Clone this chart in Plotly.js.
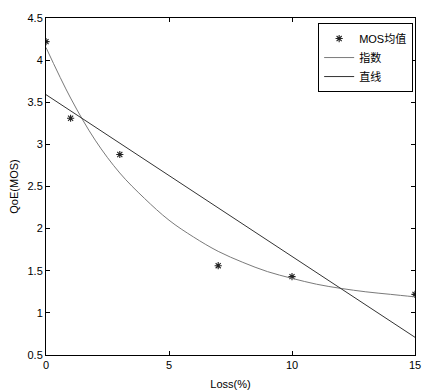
<!DOCTYPE html>
<html>
<head>
<meta charset="utf-8">
<script src="https://cdn.plot.ly/plotly-3.0.1.min.js"></script>
<style>html,body{margin:0;padding:0;background:#fff;}#chart{width:422px;height:390px;}</style>
</head>
<body>
<div id="chart"></div>
<script>
// Measured MOS means
var lossX = [0, 1, 3, 7, 10, 15];
var mosY = [4.22, 3.31, 2.88, 1.56, 1.43, 1.22];
// Exponential fit curve
var expX = [0, 1, 2, 3, 4, 5, 6, 7, 8, 9, 10, 11, 12, 13, 14, 15];
var expY = [4.15, 3.55, 3.05, 2.66, 2.36, 2.10, 1.90, 1.73, 1.60, 1.49, 1.41, 1.34, 1.29, 1.25, 1.22, 1.19];
// Straight-line fit
var linX = [0, 15];
var linY = [3.59, 0.71];
var names = ['MOS均值', '指数', '直线'];
var xTicks = [0, 5, 10, 15];
var yTicks = [0.5, 1, 1.5, 2, 2.5, 3, 3.5, 4, 4.5];

var font = 'Liberation Sans, Arial, Noto Sans CJK SC, sans-serif';
var traces = [
  {x: lossX, y: mosY, name: names[0], mode: 'markers', type: 'scatter',
   marker: {symbol: 'asterisk-open', size: 6, color: '#222', line: {color: '#222', width: 1.1}}},
  {x: expX, y: expY, name: names[1], mode: 'lines', type: 'scatter',
   line: {color: '#7a7a7a', width: 1, shape: 'spline'}},
  {x: linX, y: linY, name: names[2], mode: 'lines', type: 'scatter',
   line: {color: '#333', width: 1}}
];
var axisCommon = {
  showgrid: false, zeroline: false, showline: true, linecolor: '#000', linewidth: 1,
  mirror: 'allticks', ticks: 'inside', ticklen: 4, tickcolor: '#000', tickwidth: 1,
  tickfont: {family: font, size: 11, color: '#000'}
};
var layout = {
  width: 422, height: 390,
  margin: {l: 46, r: 7, t: 18, b: 35},
  paper_bgcolor: '#fff', plot_bgcolor: '#fff',
  font: {family: font, color: '#000'},
  showlegend: true,
  xaxis: Object.assign({}, axisCommon, {
    range: [0, 15], tickvals: xTicks, ticktext: xTicks.map(String),
    title: {text: 'Loss(%)', font: {family: font, size: 11, color: '#000'}, standoff: 12}
  }),
  yaxis: Object.assign({}, axisCommon, {
    range: [0.5, 4.5], tickvals: yTicks, ticktext: yTicks.map(String),
    title: {text: 'QoE(MOS)', font: {family: font, size: 11, color: '#000'}, standoff: 6}
  }),
  legend: {
    x: 0.995, xanchor: 'right', y: 0.985, yanchor: 'top',
    bgcolor: '#fff', bordercolor: '#000', borderwidth: 1,
    font: {family: font, size: 11, color: '#000'},
    tracegroupgap: 0, itemwidth: 30
  }
};
Plotly.newPlot('chart', traces, layout, {displayModeBar: false, staticPlot: true});
</script>
</body>
</html>
